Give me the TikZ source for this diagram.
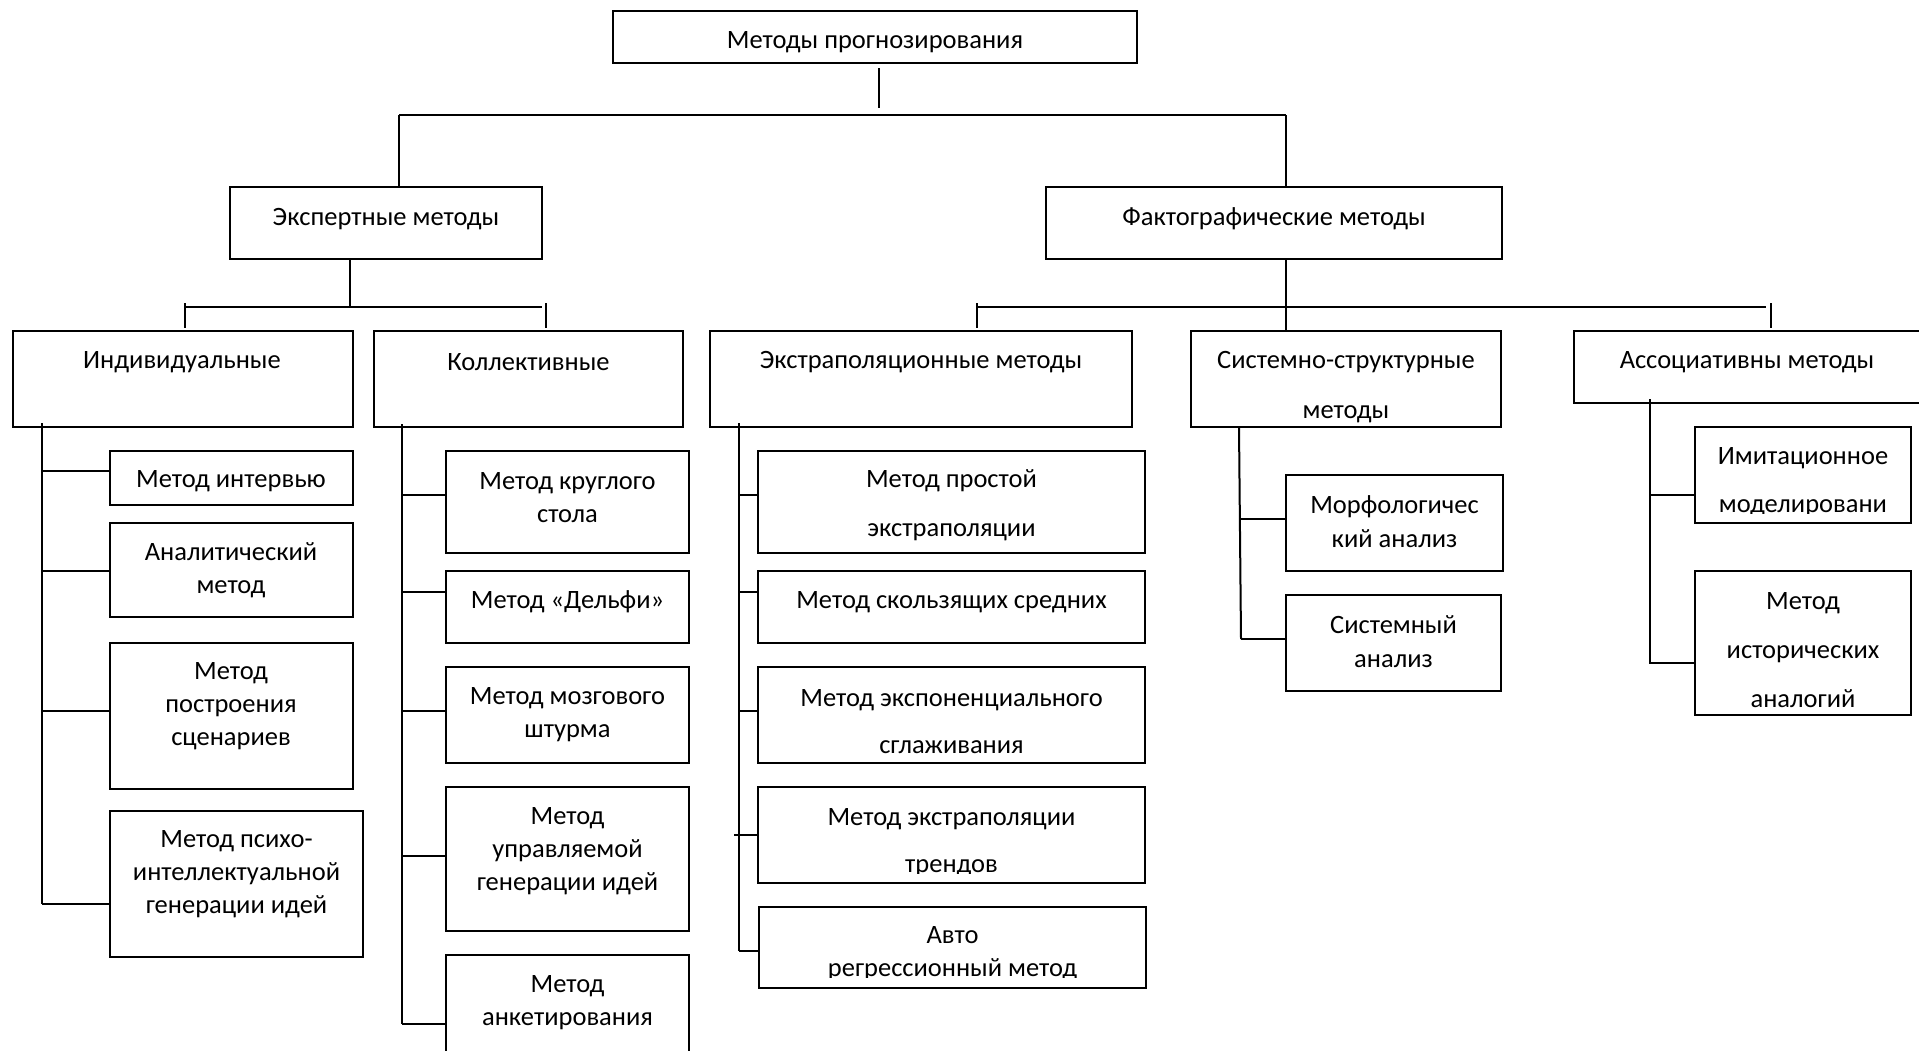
\documentclass[tikz,border=0pt]{standalone}
\usepackage{fontspec}
\setmainfont{Carlito}
\tikzset{
  boxst/.style={draw, line width=2.4pt, inner sep=0pt, outer sep=0pt, rectangle},
  txt/.style={inner sep=0pt, align=center, yshift=-2pt, font=\fontsize{26.5}{33}\selectfont},
  txtwide/.style={inner sep=0pt, align=center, yshift=-2pt, font=\fontsize{26.5}{49}\selectfont},
  wire/.style={line width=2pt},
}
% \mkbox{name}{x1}{y1}{x2}{y2}: empty framed box between two corners
\newcommand\mkbox[5]{\node[boxst, minimum width={#4-#2}, minimum height={#5-#3}] (#1) at ({(#2+#4)/2},{(#3+#5)/2}) {};}
\begin{document}
\begin{tikzpicture}[x=1pt,y=-1pt]
\fill[white] (0,0) rectangle (1919,1050);
\useasboundingbox (0,0) rectangle (1919,1050);

% ---------- boxes ----------
\mkbox{root}{613}{11}{1137}{63}
\mkbox{exp}{230}{187}{542}{259}
\mkbox{fact}{1046}{187}{1502}{259}
\mkbox{ind}{13}{331}{353}{427}
\mkbox{col}{374}{331}{683}{427}
\mkbox{ext}{710}{331}{1132}{427}
\mkbox{sys}{1191}{331}{1501}{427}
\mkbox{asc}{1574}{331}{1922}{403}

\mkbox{i1}{110}{451}{353}{505}
\mkbox{i2}{110}{523}{353}{617}
\mkbox{i3}{110}{643}{353}{789}
\mkbox{i4}{110}{811}{363}{957}

\mkbox{c1}{446}{451}{689}{553}
\mkbox{c2}{446}{571}{689}{643}
\mkbox{c3}{446}{667}{689}{763}
\mkbox{c4}{446}{787}{689}{931}
\mkbox{c5}{446}{955}{689}{1064}

\mkbox{e1}{758}{451}{1145}{553}
\mkbox{e2}{758}{571}{1145}{643}
\mkbox{e3}{758}{667}{1145}{763}
\mkbox{e4}{758}{787}{1145}{883}
\mkbox{e5}{759}{907}{1146}{988}

\mkbox{s1}{1286}{475}{1503}{571}
\mkbox{s2}{1286}{595}{1501}{691}

\mkbox{a1}{1695}{427}{1911}{523}
\mkbox{a2}{1695}{571}{1911}{715}

% ---------- texts ----------
\node[txt] (t-root) at (875,40) {Методы прогнозирования};
\node[txt] (t-exp) at (386,217) {Экспертные методы};
\node[txt] (t-fact) at (1274,217) {Фактографические методы};
\node[txt] (t-ind) at (182,360) {Индивидуальные};
\node[txt] (t-col) at (528.5,360) {Коллективные};
\node[txt] (t-ext) at (921,360) {Экстраполяционные методы};
\node[txtwide, font=\fontsize{26.5}{50}\selectfont] (t-sys) at (1346,385) {Системно-структурные\\методы};
\node[txt] (t-asc) at (1747,360) {Ассоциативны методы};

\node[txt] (t-i1) at (231,479) {Метод интервью};
\node[txt] (t-i2) at (231,568.5) {Аналитический\\метод};
\node[txt] (t-i3) at (231,704.5) {Метод\\построения\\сценариев};
\node[txt] (t-i4) at (236.5,872) {Метод психо-\\интеллектуальной\\генерации идей};

\node[txt] (t-c1) at (567.5,495.5) {Метод круглого\\стола};
\node[txt] (t-c2) at (567.5,600) {Метод «Дельфи»};
\node[txt] (t-c3) at (567.5,712.5) {Метод мозгового\\штурма};
\node[txt] (t-c4) at (567.5,849) {Метод\\управляемой\\генерации идей};
\node[txt] (t-c5) at (567.5,1000.5) {Метод\\анкетирования};

\node[txtwide] (t-e1) at (951.5,503.5) {Метод простой\\экстраполяции};
\node[txt] (t-e2) at (951.5,600) {Метод скользящих средних};
\node[txtwide, font=\fontsize{26.5}{47}\selectfont] (t-e3) at (951.5,719.5) {Метод экспоненциального\\сглаживания};
\begin{scope}
  \clip (e4.north west) rectangle ([yshift=10pt]e4.south east);
  \node[txtwide, font=\fontsize{26.5}{47}\selectfont] (t-e4) at (951.5,840.5) {Метод экстраполяции\\трендов};
\end{scope}
\begin{scope}
  \clip (e5.north west) rectangle ([yshift=11pt]e5.south east);
  \node[txt] (t-e5) at (952.5,952) {Авто\\регрессионный метод};
\end{scope}

\node[txt, font=\fontsize{26.5}{34}\selectfont] (t-s1) at (1394.5,520) {Морфологичес\\кий анализ};
\node[txt, font=\fontsize{26.5}{34}\selectfont] (t-s2) at (1393.5,640) {Системный\\анализ};

\begin{scope}
  \clip (a1.north west) rectangle ([yshift=10pt]a1.south east);
  \node[txtwide, font=\fontsize{26.5}{48.5}\selectfont] (t-a1) at (1803,480.25) {Имитационное\\моделировани};
\end{scope}
\node[txtwide] (t-a2) at (1803,648) {Метод\\исторических\\аналогий};

% ---------- top level connectors ----------
\coordinate (r-top) at (879,68);
\coordinate (r-bot) at (879,108);
\draw[wire] (r-top) -- (r-bot);
\coordinate (bus0-l) at (399,115);
\coordinate (bus0-r) at (1286,115);
\draw[wire] (bus0-l) -- (bus0-r);
\draw[wire] (bus0-l) -- (exp.north -| bus0-l);
\draw[wire] (bus0-r) -- (fact.north -| bus0-r);

% expert branch bus
\coordinate (eb-m) at (350,307);
\coordinate (eb-l) at (184,307);
\coordinate (eb-r) at (542,307);
\draw[wire] (exp.south -| eb-m) -- (eb-m);
\draw[wire] (eb-l) -- (eb-r);
\coordinate (tk-ind) at (185,303);
\coordinate (tk-col) at (546,303);
\draw[wire] (tk-ind) -- ([yshift=3pt]tk-ind |- ind.north);
\draw[wire] (tk-col) -- ([yshift=3pt]tk-col |- col.north);

% factographic branch bus
\coordinate (fb-l) at (977,307);
\coordinate (fb-r) at (1766,307);
\draw[wire] (fact.south -| bus0-r) -- (sys.north -| bus0-r);
\draw[wire] (fb-l) -- (fb-r);
\coordinate (tk-ext) at (977,303);
\coordinate (tk-asc) at (1771,303);
\draw[wire] (tk-ext) -- ([yshift=3pt]tk-ext |- ext.north);
\draw[wire] (tk-asc) -- ([yshift=3pt]tk-asc |- asc.north);

% ---------- trunks and branches ----------
\coordinate (ind-t) at (42,423);
\draw[wire] (ind-t) -- (42,904);
\foreach \b/\y in {i1/471,i2/571,i3/711,i4/904}
  \draw[wire] (42,\y) -- (\b.west |- 0,\y);

\coordinate (col-t) at (402,424);
\draw[wire] (col-t) -- (402,1024);
\foreach \b/\y in {c1/495,c2/592,c3/711,c4/856,c5/1024}
  \draw[wire] (402,\y) -- (\b.west |- 0,\y);

\coordinate (ext-t) at (739,423);
\draw[wire] (ext-t) -- (739,951);
\foreach \b/\y in {e1/495,e2/592,e3/711,e5/951}
  \draw[wire] (739,\y) -- (\b.west |- 0,\y);
\draw[wire] (734,835) -- (e4.west |- 0,835);

\coordinate (sys-t) at (1239,427);
\draw[wire] (sys-t) -- (1241,639);
\foreach \b/\y in {s1/519,s2/639}
  \draw[wire] (1241,\y) -- (\b.west |- 0,\y);

\coordinate (asc-t) at (1650,399);
\draw[wire] (asc-t) -- (1650,664);
\foreach \b/\y in {a1/495,a2/663}
  \draw[wire] (1650,\y) -- (\b.west |- 0,\y);
\end{tikzpicture}
\end{document}
